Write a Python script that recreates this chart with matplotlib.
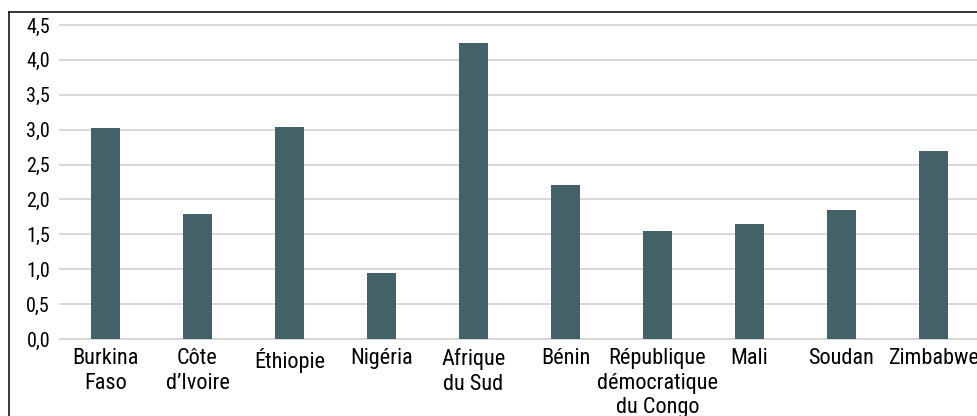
import matplotlib
matplotlib.use("Agg")
import matplotlib.pyplot as plt
from matplotlib.lines import Line2D

countries = [
    "Burkina\nFaso",
    "Côte\nd\u2019Ivoire",
    "Éthiopie",
    "Nigéria",
    "Afrique\ndu Sud",
    "Bénin",
    "République\ndémocratique\ndu Congo",
    "Mali",
    "Soudan",
    "Zimbabwe",
]
values = [3.02, 1.79, 3.04, 0.95, 4.24, 2.21, 1.55, 1.65, 1.85, 2.70]
y_ticks = [0.0, 0.5, 1.0, 1.5, 2.0, 2.5, 3.0, 3.5, 4.0, 4.5]
y_tick_labels = ["0,0", "0,5", "1,0", "1,5", "2,0", "2,5", "3,0", "3,5", "4,0", "4,5"]

W, H = 977, 416
FONT = ["Roboto Condensed", "Archivo Narrow", "DejaVu Sans"]
BAR_COLOR = "#436166"
GRID_COLOR = "#cfcfcf"

fig = plt.figure(figsize=(W / 100, H / 100), dpi=100)
fig.patch.set_facecolor("white")

# axes area in pixels: x from 59.5 to 979.5, y from 25 (4.5) to 339 (0.0)
left_px, right_px = 59.5, 979.5
top_px, bottom_px = 25.0, 339.0
ax = fig.add_axes([left_px / W, 1 - bottom_px / H,
                   (right_px - left_px) / W, (bottom_px - top_px) / H])

x = list(range(len(countries)))
ax.bar(x, values, width=0.315, color=BAR_COLOR, zorder=3)

ax.set_xlim(-0.5, len(countries) - 0.5)
ax.set_ylim(0, 4.5)
ax.set_yticks(y_ticks)
ax.set_yticklabels(y_tick_labels, fontfamily=FONT, fontsize=14.5)
ax.set_xticks(x)
ax.set_xticklabels(countries, fontfamily=FONT, fontsize=16, linespacing=1.22)
ax.tick_params(axis="both", length=0, colors="black")
ax.tick_params(axis="y", pad=6.8)
ax.tick_params(axis="x", pad=6.5)

for y in y_ticks:
    ax.axhline(y, color=GRID_COLOR, linewidth=1.2, zorder=1, clip_on=False)

for s in ax.spines.values():
    s.set_visible(False)

# outer frame: top and left edges
fig.add_artist(Line2D([9.3 / W, 1.0], [1 - 12.3 / H, 1 - 12.3 / H],
                      transform=fig.transFigure, color="black", linewidth=1.1))
fig.add_artist(Line2D([9.3 / W, 9.3 / W], [0.0, 1 - 12.3 / H],
                      transform=fig.transFigure, color="black", linewidth=1.1))

fig.savefig("out.png", dpi=100, facecolor="white")
